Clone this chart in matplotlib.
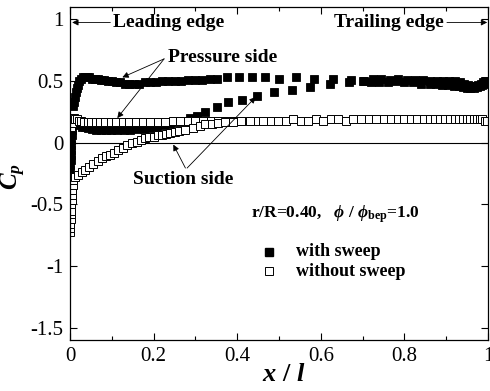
import matplotlib
matplotlib.use("Agg")
import matplotlib.pyplot as plt
from matplotlib.ticker import FixedLocator, FuncFormatter

plt.rcParams['font.family'] = ['Liberation Serif', 'DejaVu Serif']
plt.rcParams['mathtext.fontset'] = 'custom'
plt.rcParams['mathtext.rm'] = 'Liberation Serif:bold'
plt.rcParams['mathtext.it'] = 'Liberation Serif:bold:italic'
plt.rcParams['mathtext.bf'] = 'Liberation Serif:bold'
plt.rcParams['axes.unicode_minus'] = False

# with sweep, pressure side (filled squares)
sweep_ps_x = [0.008, 0.010, 0.012, 0.014, 0.016, 0.019, 0.022, 0.026, 0.030, 0.035,
              0.040, 0.046, 0.052, 0.059, 0.066, 0.074, 0.082, 0.091, 0.100, 0.110,
              0.120, 0.131, 0.142, 0.154, 0.166, 0.179, 0.192, 0.206, 0.220, 0.235,
              0.250, 0.266, 0.282, 0.299, 0.316, 0.334, 0.352, 0.376, 0.405, 0.435,
              0.466, 0.500, 0.540, 0.583, 0.628, 0.672, 0.703, 0.725, 0.745, 0.765,
              0.785, 0.805, 0.825, 0.845, 0.862, 0.878, 0.893, 0.907, 0.920, 0.932,
              0.943, 0.953, 0.962, 0.970, 0.977, 0.983, 0.988, 0.992, 0.996]
sweep_ps_cp = [0.30, 0.33, 0.37, 0.41, 0.44, 0.47, 0.50, 0.52, 0.53, 0.53,
               0.53, 0.53, 0.52, 0.52, 0.52, 0.51, 0.51, 0.50, 0.50, 0.49,
               0.49, 0.48, 0.48, 0.48, 0.48, 0.49, 0.49, 0.49, 0.50, 0.50,
               0.50, 0.50, 0.51, 0.51, 0.51, 0.52, 0.52, 0.53, 0.53, 0.53,
               0.53, 0.52, 0.53, 0.52, 0.52, 0.51, 0.50, 0.52, 0.52, 0.51,
               0.52, 0.51, 0.51, 0.51, 0.50, 0.50, 0.50, 0.50, 0.50, 0.49,
               0.48, 0.47, 0.46, 0.46, 0.47, 0.48, 0.49, 0.50, 0.50]

# with sweep, suction side (filled squares)
sweep_ss_x = [0.001, 0.001, 0.0015, 0.002, 0.002, 0.0025, 0.003, 0.0035, 0.004, 0.005,
              0.006, 0.008, 0.011, 0.014, 0.018, 0.023, 0.029, 0.036, 0.044, 0.053,
              0.063, 0.074, 0.086, 0.099, 0.113, 0.128, 0.144, 0.160, 0.176, 0.192,
              0.208, 0.224, 0.240, 0.256, 0.272, 0.288, 0.304, 0.324, 0.352, 0.379,
              0.412, 0.448, 0.487, 0.532, 0.575, 0.623, 0.667, 0.700, 0.720, 0.740,
              0.760, 0.780, 0.800, 0.820, 0.840, 0.860, 0.875, 0.890, 0.905, 0.918,
              0.930, 0.940, 0.950, 0.958, 0.966, 0.973, 0.980, 0.986, 0.992, 0.997]
sweep_ss_cp = [-0.22, -0.18, -0.14, -0.10, -0.06, -0.02, 0.02, 0.06, 0.10, 0.14,
               0.17, 0.18, 0.17, 0.16, 0.15, 0.14, 0.13, 0.125, 0.12, 0.11,
               0.105, 0.10, 0.10, 0.10, 0.10, 0.10, 0.105, 0.11, 0.115, 0.12,
               0.13, 0.14, 0.15, 0.165, 0.18, 0.20, 0.22, 0.25, 0.29, 0.33,
               0.35, 0.38, 0.41, 0.43, 0.45, 0.48, 0.49, 0.50, 0.49, 0.49,
               0.49, 0.50, 0.49, 0.49, 0.48, 0.48, 0.48, 0.47, 0.47, 0.46,
               0.46, 0.45, 0.44, 0.44, 0.44, 0.45, 0.46, 0.47, 0.48, 0.49]

# without sweep, pressure side (open squares)
base_ps_x = [0.003, 0.004, 0.006, 0.009, 0.012, 0.016, 0.021, 0.027, 0.034, 0.042,
             0.051, 0.061, 0.072, 0.084, 0.097, 0.111, 0.126, 0.142, 0.158, 0.175,
             0.192, 0.210, 0.228, 0.246, 0.264, 0.282, 0.300, 0.318, 0.336, 0.354,
             0.372, 0.390, 0.408, 0.426, 0.444, 0.462, 0.480, 0.498, 0.516, 0.534,
             0.552, 0.570, 0.588, 0.606, 0.624, 0.642, 0.660, 0.678, 0.696, 0.714,
             0.732, 0.750, 0.767, 0.784, 0.800, 0.816, 0.831, 0.846, 0.860, 0.873,
             0.886, 0.898, 0.910, 0.921, 0.931, 0.941, 0.950, 0.958, 0.966, 0.973,
             0.980, 0.986, 0.992, 0.997]
base_ps_cp = [0.13, 0.16, 0.19, 0.20, 0.19, 0.19, 0.18, 0.18, 0.17, 0.17,
              0.17, 0.17, 0.17, 0.17, 0.17, 0.17, 0.17, 0.17, 0.17, 0.17,
              0.17, 0.17, 0.17, 0.18, 0.18, 0.18, 0.18, 0.18, 0.18, 0.18,
              0.18, 0.18, 0.18, 0.18, 0.18, 0.18, 0.18, 0.18, 0.18, 0.19,
              0.18, 0.18, 0.19, 0.18, 0.19, 0.19, 0.18, 0.19, 0.19, 0.19,
              0.19, 0.19, 0.19, 0.19, 0.19, 0.19, 0.19, 0.19, 0.19, 0.19,
              0.19, 0.19, 0.19, 0.19, 0.19, 0.19, 0.19, 0.19, 0.19, 0.19,
              0.19, 0.19, 0.18, 0.18]

# without sweep, suction side (open squares)
base_ss_x = [0.001, 0.001, 0.001, 0.002, 0.002, 0.003, 0.003, 0.004, 0.005, 0.005,
             0.006, 0.007, 0.012, 0.020, 0.028, 0.036, 0.045, 0.055, 0.066, 0.077,
             0.087, 0.096, 0.106, 0.115, 0.126, 0.137, 0.148, 0.160, 0.170, 0.180,
             0.190, 0.200, 0.210, 0.220, 0.230, 0.240, 0.250, 0.260, 0.275, 0.295,
             0.310, 0.324, 0.340, 0.355, 0.370, 0.390, 0.410, 0.430]
base_ss_cp = [-0.72, -0.69, -0.66, -0.62, -0.58, -0.55, -0.50, -0.46, -0.42, -0.38,
              -0.34, -0.30, -0.28, -0.26, -0.24, -0.22, -0.20, -0.17, -0.15, -0.12,
              -0.11, -0.10, -0.08, -0.06, -0.04, -0.02, -0.005, 0.01, 0.025, 0.035,
              0.045, 0.05, 0.06, 0.065, 0.075, 0.08, 0.085, 0.095, 0.105, 0.12,
              0.135, 0.15, 0.155, 0.16, 0.165, 0.17, 0.175, 0.18]

x_ticks = [0, 0.2, 0.4, 0.6, 0.8, 1.0]
y_ticks = [-1.5, -1, -0.5, 0, 0.5, 1]

fig = plt.figure(figsize=(4.9, 3.91), dpi=100)
ax = fig.add_axes([0.143, 0.130, 0.853, 0.852])

ms = 5.4
for xs, cs in ((sweep_ps_x, sweep_ps_cp), (sweep_ss_x, sweep_ss_cp)):
    ax.plot(xs, cs, linestyle='none', marker='s', markersize=ms,
            markerfacecolor='black', markeredgecolor='black', markeredgewidth=0.6)
for xs, cs in ((base_ps_x, base_ps_cp), (base_ss_x, base_ss_cp)):
    ax.plot(xs, cs, linestyle='none', marker='s', markersize=ms,
            markerfacecolor='white', markeredgecolor='black', markeredgewidth=0.7)

ax.axhline(0, color='black', lw=0.8, zorder=0)

ax.set_xlim(0, 1.0)
ax.set_ylim(-1.6, 1.1)
ax.xaxis.set_major_locator(FixedLocator(x_ticks))
ax.xaxis.set_minor_locator(FixedLocator([0.1, 0.3, 0.5, 0.7, 0.9]))
ax.yaxis.set_major_locator(FixedLocator(y_ticks))
fmt = FuncFormatter(lambda v, p: '%g' % v)
ax.xaxis.set_major_formatter(fmt)
ax.yaxis.set_major_formatter(fmt)
ax.tick_params(which='both', direction='in', top=True, right=True, labelsize=15, pad=5)
ax.tick_params(which='major', length=5, width=0.8)
ax.tick_params(which='minor', length=3, width=0.8)
for s in ax.spines.values():
    s.set_linewidth(0.9)

ax.set_ylabel(r'$C_p$', fontsize=18)
ax.yaxis.set_label_coords(-0.10, 0.49)
ax.set_xlabel(r'$x$ / $l$', fontsize=19, fontweight='bold')
ax.xaxis.set_label_coords(0.51, -0.07)

bold = dict(fontsize=14, fontweight='bold')
arrow = dict(arrowstyle='-|>', color='black', lw=0.6, mutation_scale=9, shrinkA=0, shrinkB=0)

ax.annotate('Leading edge', xy=(0.005, 0.975), xytext=(0.103, 0.975),
            va='center', ha='left', arrowprops=arrow, **bold)
ax.annotate('Trailing edge', xy=(0.998, 0.975), xytext=(0.895, 0.975),
            va='center', ha='right', arrowprops=arrow, **bold)

ax.text(0.235, 0.69, 'Pressure side', va='center', ha='left', **bold)
ax.annotate('', xy=(0.125, 0.53), xytext=(0.225, 0.68), arrowprops=arrow)
ax.annotate('', xy=(0.113, 0.20), xytext=(0.225, 0.68), arrowprops=arrow)

ax.text(0.151, -0.30, 'Suction side', va='center', ha='left', **bold)
ax.annotate('', xy=(0.247, -0.015), xytext=(0.276, -0.205), arrowprops=arrow)
ax.annotate('', xy=(0.444, 0.37), xytext=(0.28, -0.205), arrowprops=arrow)

ax.text(0.432, -0.58, r'r/R=0.40,   $\phi$ / $\phi_{\rm bep}$=1.0',
        va='center', ha='left', fontsize=12.5, fontweight='bold')

ax.plot([0.475], [-0.885], linestyle='none', marker='s', markersize=ms,
        markerfacecolor='black', markeredgecolor='black')
ax.plot([0.475], [-1.04], linestyle='none', marker='s', markersize=ms,
        markerfacecolor='white', markeredgecolor='black', markeredgewidth=0.7)
ax.text(0.54, -0.885, 'with sweep', va='center', ha='left', fontsize=13, fontweight='bold')
ax.text(0.54, -1.04, 'without sweep', va='center', ha='left', fontsize=13, fontweight='bold')

fig.savefig('out.png', dpi=100)
